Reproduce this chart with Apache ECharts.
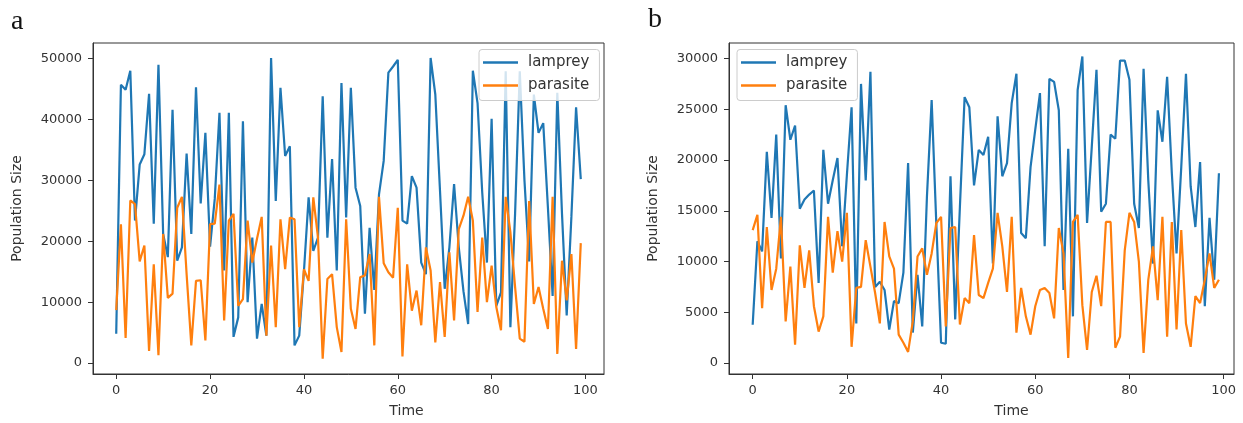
<!DOCTYPE html>
<html><head><meta charset="utf-8">
<script src="https://cdn.jsdelivr.net/npm/echarts@6/dist/echarts.min.js"></script>
<style>html,body{margin:0;padding:0;background:#fff}#c{width:1243px;height:423px}</style>
</head><body><div id="c"></div>
<script>
// Panel a
const lampreyA = [4800,45700,44900,48000,23400,32600,34300,44200,22900,49000,
  21200,17400,41600,16800,19000,34400,21200,45300,26200,37800,
  19100,27000,41100,15200,41100,4300,7500,39700,10000,20600,
  4000,9700,4500,50100,26600,45200,34000,35600,2900,4500,
  15000,27200,18400,20600,43800,20600,33500,15200,46000,23900,
  45200,28800,25800,8100,22200,12000,27700,33200,47700,48700,
  49800,23400,22900,30700,28800,16500,14600,50100,44100,28300,
  12200,19000,29400,19000,11800,6400,48000,42700,28000,16500,
  40100,9400,11600,47900,5900,24500,47900,30000,16700,44100,
  37800,39400,25500,11000,44400,24500,7800,24000,42000,30200];
const parasiteA = [8700,22800,4100,26700,26100,16700,19300,2000,16200,1300,
  21200,10700,11400,25500,27300,14600,2900,13500,13600,3700,
  22800,22900,29300,7000,23400,24500,9400,10500,23400,16500,
  20400,24000,4500,19300,5900,23600,15400,23900,23600,5900,
  15400,13500,27200,20600,700,13800,14600,5900,1800,23600,
  8900,5600,14100,14400,17900,2900,27300,16400,14900,14000,
  25500,1100,16200,8600,11900,6200,19000,15200,3400,13300,
  4300,18200,7000,22000,24200,27300,23400,8400,20600,10000,
  16000,9200,5400,27300,21500,12500,4000,3500,26600,9700,
  12500,8900,5600,27300,1500,16800,10300,17900,2300,19700];
// Panel b
const lampreyB = [3770,12000,11000,20800,14300,22500,10300,25400,22000,23400,
  15200,16100,16600,17000,7900,21000,15700,18000,20200,11500,
  18500,25200,3900,27500,18000,28700,7500,8000,7200,3300,
  6100,5900,8900,19700,3000,8700,3600,16400,25900,13600,
  2000,1900,18400,4300,15400,26200,25200,17500,21000,20500,
  22300,9800,24300,18400,19700,25600,28500,12800,12300,19300,
  23000,26600,11500,28000,27700,24900,7200,21100,4600,26900,
  30200,13800,21300,28900,14900,15700,22500,22100,29800,29800,
  27900,15700,13300,29000,18000,9800,24900,21800,28200,18700,
  10800,19300,28500,17400,13400,19800,5600,14300,8200,18700];
const parasiteB = [13100,14600,5400,13400,7200,9300,14400,4100,9500,1800,
  11600,7400,11100,5600,3100,4600,14400,8900,13000,10000,
  14800,1600,7400,7500,12100,9500,6900,3900,13900,10500,
  9300,2800,2000,1100,4100,10500,11300,8700,10800,13800,
  14400,3600,13300,13400,3800,6400,5900,12600,6700,6400,
  7900,9300,14800,11500,7000,14400,3000,7400,4600,2800,
  5600,7200,7400,6900,4400,13300,10800,500,13900,14600,
  5700,1300,7000,8600,5600,13900,13900,1500,2600,11100,
  14800,13900,10000,1000,8200,11500,6200,14400,2600,13900,
  3300,13100,3900,1600,6600,5900,8200,10800,7400,8200];

const xTicks = [0,20,40,60,80,100];
const yTicksA = [0,10000,20000,30000,40000,50000];
const yTicksB = [0,5000,10000,15000,20000,25000,30000];
const seriesNames = ['lamprey','parasite'];
const panelLabels = ['a','b'];
const xName = 'Time';
const yName = 'Population Size';

const BLUE = '#1f77b4', ORANGE = '#ff7f0e', INK = '#333333';
const FONT = 'DejaVu Sans';

function pairs(arr){ return arr.map((v,i)=>[i,v]); }

function xAxisCfg(gi, min, max, namePad){
  return {type:'value', gridIndex:gi, min:min, max:max,
    axisLine:{show:true, onZero:false, lineStyle:{color:INK, width:1}},
    axisTick:{show:true, length:5, customValues:xTicks, lineStyle:{color:INK}},
    axisLabel:{customValues:xTicks, margin:10, color:INK, fontSize:13, fontFamily:FONT,
      formatter:function(v){return String(v);}},
    splitLine:{show:false},
    name:xName, nameLocation:'middle', nameGap:30,
    nameTextStyle:{color:INK, fontSize:14, fontFamily:FONT, padding:[0,0,0,namePad]}};
}
function yAxisCfg(gi, min, max, ticks, gap){
  return {type:'value', gridIndex:gi, min:min, max:max,
    axisLine:{show:true, onZero:false, lineStyle:{color:INK, width:1}},
    axisTick:{show:true, length:5, customValues:ticks, lineStyle:{color:INK}},
    axisLabel:{customValues:ticks, margin:11, color:INK, fontSize:13, fontFamily:FONT,
      formatter:function(v){return String(v);}},
    splitLine:{show:false},
    name:yName, nameLocation:'middle', nameGap:gap, nameRotate:90,
    nameTextStyle:{color:INK, fontSize:14, fontFamily:FONT}};
}
function lineSeries(name, data, color, xi, yi){
  return {type:'line', name:name, data:pairs(data), xAxisIndex:xi, yAxisIndex:yi,
    symbol:'none', lineStyle:{color:color, width:2.2}, itemStyle:{color:color},
    animation:false, z:name==='parasite'?3:2};
}
function legendCfg(left, top){
  return {left:left, top:top, orient:'vertical', data:seriesNames,
    icon:'rect', itemWidth:35, itemHeight:2.4, itemGap:7,
    padding:[5,10,7,4],
    backgroundColor:'rgba(255,255,255,0.8)', borderColor:'#cccccc', borderWidth:1, borderRadius:3,
    textStyle:{color:INK, fontSize:15, fontFamily:FONT, padding:[0,0,0,5], lineHeight:16}};
}

const chart = echarts.init(document.getElementById('c'), null, {renderer:'canvas'});
chart.setOption({
  backgroundColor:'#fff',
  animation:false,
  grid:[
    {left:93, top:43, width:511, height:331, show:true, borderColor:INK, borderWidth:1, backgroundColor:'transparent'},
    {left:729, top:43, width:505, height:331, show:true, borderColor:INK, borderWidth:1, backgroundColor:'transparent'}
  ],
  xAxis:[xAxisCfg(0,-4.95,103.95,116), xAxisCfg(1,-5.03,102.2,60)],
  yAxis:[yAxisCfg(0,-1800,52560,yTicksA,69), yAxisCfg(1,-1080,31530,yTicksB,69)],
  legend:[legendCfg(479,49.5), legendCfg(737,49.5)],
  series:[
    lineSeries(seriesNames[0], lampreyA, BLUE, 0, 0),
    lineSeries(seriesNames[1], parasiteA, ORANGE, 0, 0),
    lineSeries(seriesNames[0], lampreyB, BLUE, 1, 1),
    lineSeries(seriesNames[1], parasiteB, ORANGE, 1, 1)
  ],
  graphic:[
    {type:'text', left:11, top:8, style:{text:panelLabels[0], font:'28px "Liberation Serif"', fill:'#111'}},
    {type:'text', left:648, top:6, style:{text:panelLabels[1], font:'28px "Liberation Serif"', fill:'#111'}}
  ]
});
</script></body></html>
